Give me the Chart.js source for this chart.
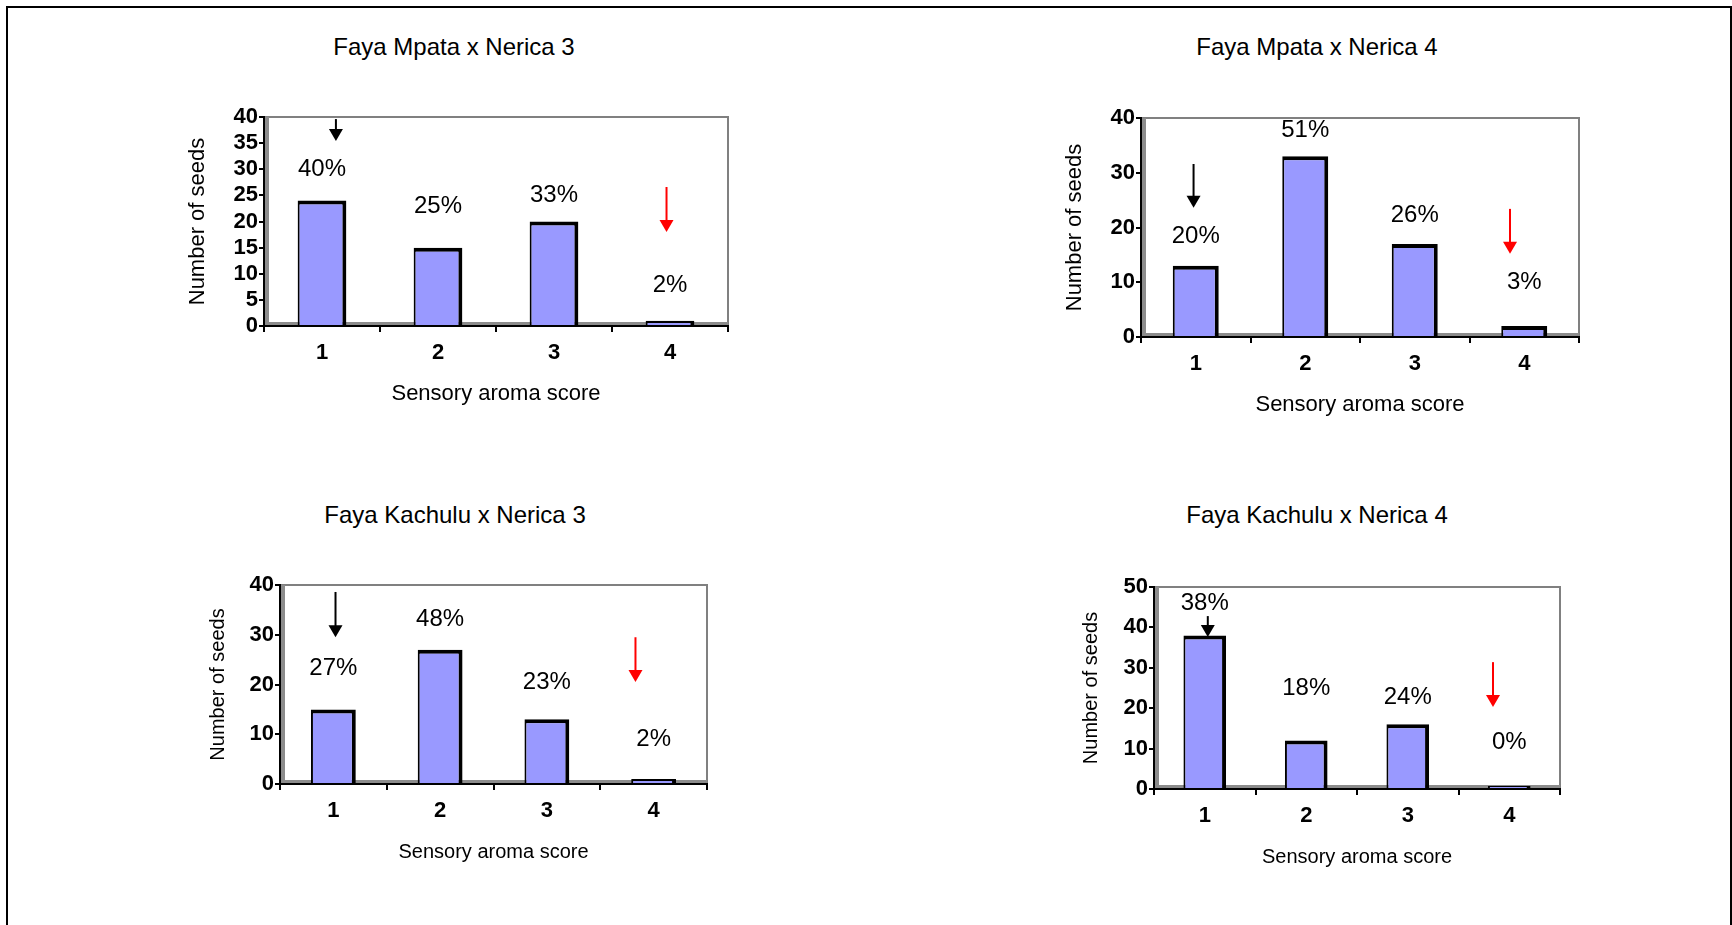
<!DOCTYPE html>
<html lang="en">
<head>
<meta charset="UTF-8">
<title>Sensory aroma score</title>
<script src="https://cdn.jsdelivr.net/npm/chart.js"></script>
<style>
  html, body { margin: 0; padding: 0; background: #fff; width: 1732px; height: 925px; overflow: hidden;
    font-family: "Liberation Sans", Arial, sans-serif; }
  .frame { position: absolute; left: 6px; top: 6px; width: 1726px; height: 1000px; box-sizing: border-box; border: 2px solid #000; }
  .panel-title { position: absolute; width: 400px; text-align: center; font-size: 24px; line-height: 28px; color: #000; }
  canvas { position: absolute; }
</style>
</head>
<body>
<div class="frame"></div>
<div id="charts"></div>
<script>
// data
const scores = ['1', '2', '3', '4'];
const crossTitles = ['Faya Mpata x Nerica 3', 'Faya Mpata x Nerica 4', 'Faya Kachulu x Nerica 3', 'Faya Kachulu x Nerica 4'];

const seedsMpataN3 = [24, 15, 20, 1];
const seedsMpataN4 = [13, 33, 17, 2];
const seedsKachuluN3 = [15, 27, 13, 1];
const seedsKachuluN4 = [38, 12, 16, 0];

const pctMpataN3 = ['40%', '25%', '33%', '2%'];
const pctMpataN4 = ['20%', '51%', '26%', '3%'];
const pctKachuluN3 = ['27%', '48%', '23%', '2%'];
const pctKachuluN4 = ['38%', '18%', '24%', '0%'];

const yMaxes = [40, 40, 40, 50];
const ySteps = [5, 10, 10, 10];

// where the % labels sit, in seed units
const pctHeightMpataN3 = [30, 22.8, 25, 7.7];
const pctHeightMpataN4 = [18.3, 37.8, 22.3, 10];
const pctHeightKachuluN3 = [23.3, 33, 20.5, 9];
const pctHeightKachuluN4 = [46, 25, 22.8, 11.6];

// arrows: [category position, from, to] in axis units
const blackArrows = [[0.12, 39.6, 35.4], [-0.02, 31.6, 23.6], [0.02, 38.6, 29.5], [0.03, 42.8, 37.6]];
const redArrows = [[2.97, 26.6, 18], [2.87, 23.4, 15.2], [2.83, 29.5, 20.5], [2.84, 31.4, 20.3]];

const panelSeeds = [seedsMpataN3, seedsMpataN4, seedsKachuluN3, seedsKachuluN4];
const panelPct = [pctMpataN3, pctMpataN4, pctKachuluN3, pctKachuluN4];
const panelPctHeight = [pctHeightMpataN3, pctHeightMpataN4, pctHeightKachuluN3, pctHeightKachuluN4];

// page layout of each panel
const boxes = [
  { titleX: 454, titleY: 47, left: 172, plotLeft: 264, plotRight: 728, plotTop: 117, plotBottom: 326, axisFont: 22 },
  { titleX: 1317, titleY: 47, left: 1049, plotLeft: 1141, plotRight: 1579, plotTop: 118, plotBottom: 337, axisFont: 22 },
  { titleX: 455, titleY: 515, left: 192, plotLeft: 280, plotRight: 707, plotTop: 585, plotBottom: 784, axisFont: 20 },
  { titleX: 1317, titleY: 515, left: 1065, plotLeft: 1154, plotRight: 1560, plotTop: 587, plotBottom: 789, axisFont: 20 }
];

const FONT = '"Liberation Sans", Arial, sans-serif';

// grey plot frame, left wall and floor (drawn under the axes)
const framePlugin = {
  id: 'plotFrame',
  beforeDraw(chart) {
    const { ctx, chartArea: a } = chart;
    ctx.save();
    ctx.strokeStyle = '#808080';
    ctx.lineWidth = 2;
    ctx.strokeRect(a.left, a.top, a.right - a.left, a.bottom - a.top);
    ctx.fillStyle = '#8c8c8c';
    ctx.fillRect(a.left, a.top, 5, a.bottom - a.top);
    ctx.fillRect(a.left, a.bottom - 4, a.right - a.left, 4);
    ctx.restore();
  }
};

// percentage labels and arrows
const notesPlugin = {
  id: 'notes',
  afterDatasetsDraw(chart, args, opts) {
    const { ctx } = chart;
    const xs = chart.scales.x, ys = chart.scales.y;
    ctx.save();
    ctx.fillStyle = '#000';
    ctx.font = '24px ' + FONT;
    ctx.textAlign = 'center';
    ctx.textBaseline = 'middle';
    opts.labels.forEach((t, i) => {
      ctx.fillText(t, xs.getPixelForValue(i), ys.getPixelForValue(opts.heights[i]));
    });
    opts.arrows.forEach(ar => {
      const px = xs.getPixelForValue(ar.at[0]);
      const y1 = ys.getPixelForValue(ar.at[1]);
      const y2 = ys.getPixelForValue(ar.at[2]);
      ctx.strokeStyle = ar.color;
      ctx.fillStyle = ar.color;
      ctx.lineWidth = 2;
      ctx.beginPath();
      ctx.moveTo(px, y1);
      ctx.lineTo(px, y2 - 10);
      ctx.stroke();
      ctx.beginPath();
      ctx.moveTo(px - 7, y2 - 12);
      ctx.lineTo(px + 7, y2 - 12);
      ctx.lineTo(px, y2);
      ctx.closePath();
      ctx.fill();
    });
    ctx.restore();
  }
};

const holder = document.getElementById('charts');

boxes.forEach((b, k) => {
  const title = document.createElement('div');
  title.className = 'panel-title';
  title.style.left = (b.titleX - 200) + 'px';
  title.style.top = (b.titleY - 14) + 'px';
  title.textContent = crossTitles[k];
  holder.appendChild(title);

  const top = b.plotTop - 20;
  const width = b.plotRight + 20 - b.left;
  const height = b.plotBottom + 94 - top;
  const canvas = document.createElement('canvas');
  canvas.width = width;
  canvas.height = height;
  canvas.style.left = b.left + 'px';
  canvas.style.top = top + 'px';
  holder.appendChild(canvas);

  const lh = b.axisFont * 1.2 / 2;

  new Chart(canvas, {
    type: 'bar',
    data: {
      labels: scores,
      datasets: [{
        data: panelSeeds[k],
        backgroundColor: '#9999ff',
        borderColor: '#000',
        borderWidth: { left: 2, top: 4, right: 4, bottom: 0 },
        borderSkipped: 'start',
        minBarLength: 3,
        categoryPercentage: 1,
        barPercentage: 0.42
      }]
    },
    options: {
      responsive: false,
      animation: false,
      events: [],
      layout: { padding: { top: 20, right: 20, left: 0, bottom: 0 } },
      plugins: {
        legend: { display: false },
        tooltip: { enabled: false },
        notes: {
          labels: panelPct[k],
          heights: panelPctHeight[k],
          arrows: [
            { at: blackArrows[k], color: '#000' },
            { at: redArrows[k], color: '#ff0000' }
          ]
        }
      },
      scales: {
        x: {
          grid: { drawOnChartArea: false, drawTicks: true, tickLength: 6, color: '#000', lineWidth: 2, offset: true },
          border: { color: '#000', width: 2 },
          ticks: { color: '#000', padding: 8, font: { family: FONT, size: 22, weight: 'bold' } },
          title: { display: true, text: 'Sensory aroma score', color: '#000',
            font: { family: FONT, size: b.axisFont }, padding: { top: 0, bottom: 26 - lh } },
          afterFit(scale) { scale.height = 94; }
        },
        y: {
          min: 0,
          max: yMaxes[k],
          grid: { drawOnChartArea: false, drawTicks: true, tickLength: 5, color: '#000', lineWidth: 2 },
          border: { color: '#000', width: 2 },
          ticks: { stepSize: ySteps[k], autoSkip: false, color: '#000', padding: 1,
            font: { family: FONT, size: 22, weight: 'bold' } },
          title: { display: true, text: 'Number of seeds', color: '#000',
            font: { family: FONT, size: b.axisFont }, padding: { top: 26 - lh, bottom: 0 } },
          afterFit(scale) { scale.width = b.plotLeft - b.left; }
        }
      }
    },
    plugins: [framePlugin, notesPlugin]
  });
});
</script>
</body>
</html>
